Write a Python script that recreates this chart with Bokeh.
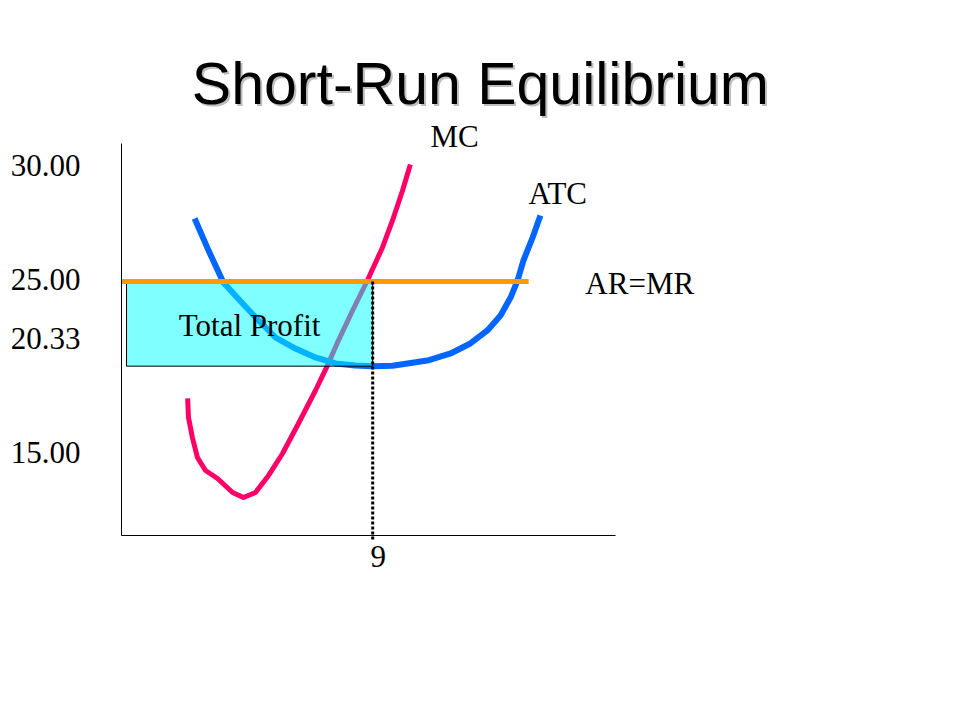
from bokeh.plotting import figure
from bokeh.models import FixedTicker, Range1d
from bokeh.core.properties import value
from bokeh.embed import file_html
from bokeh.resources import INLINE

# ---- data (quantity on x, price on y) ----
mc_q = [2.37, 2.40, 2.54, 2.72, 3.01, 3.44, 3.98, 4.37, 4.80, 5.27, 5.77, 6.34, 6.95, 7.38,
        7.77, 8.28, 8.81, 9.35, 9.71, 10.07, 10.35]
mc_p = [18.55, 17.50, 16.40, 15.30, 14.58, 14.14, 13.37, 13.09, 13.37, 14.31, 15.52, 17.17, 18.99, 20.37,
        21.74, 23.40, 25.05, 26.87, 28.36, 30.01, 31.44]

atc_q = [2.62, 3.12, 3.65, 4.34, 4.91, 5.52, 6.23, 6.95, 7.67, 8.38, 9.00, 9.71, 10.96, 11.79,
         12.50, 13.11, 13.58, 13.94, 14.19, 14.40, 14.73, 15.01]
atc_p = [28.47, 26.70, 24.94, 23.78, 22.85, 21.91, 21.30, 20.81, 20.48, 20.37, 20.33, 20.35, 20.64, 21.03,
         21.58, 22.30, 23.12, 24.11, 25.05, 26.15, 27.42, 28.63]

price = 25.00          # AR = MR
atc_min = 20.33        # ATC at equilibrium quantity
q_eq = 9               # equilibrium quantity
mr_q = [0.0, 14.58]    # extent of AR=MR line
profit_left = 0.18

q_axis = (0.0, 17.7)   # extent of quantity axis
p_axis = (11.0, 32.6)  # extent of price axis

ytick_labels = ["30.00", "25.00", "20.33", "15.00"]
ytick_anchor = [31.39, 25.11, 21.88, 15.55]
xtick_labels = ["9"]
xtick_anchor = [9.2]

SERIF = "Liberation Serif"
SANS = "Liberation Sans"

PX_X = 27.91   # pixels per quantity unit
PX_Y = 18.148  # pixels per price unit
W, H = 944, 704
X0, Y0 = 121, 143  # canvas position of (0, 32.6)

p = figure(width=W, height=H, output_backend="svg", toolbar_location=None,
           x_range=Range1d(-X0 / PX_X, (W - X0) / PX_X),
           y_range=Range1d(p_axis[1] - (H - Y0) / PX_Y, p_axis[1] + Y0 / PX_Y),
           min_border=0, background_fill_color="white", border_fill_color="white")
p.outline_line_color = None
p.xgrid.visible = False
p.ygrid.visible = False

for ax in (p.xaxis[0], p.yaxis[0]):
    ax.axis_line_color = "black"
    ax.axis_line_width = 1
    ax.major_tick_line_color = None
    ax.minor_tick_line_color = None
    ax.major_tick_in = 0
    ax.major_tick_out = 0
    ax.major_label_text_font = SERIF
    ax.major_label_text_font_size = "31px"
    ax.major_label_text_color = "black"

p.yaxis.fixed_location = q_axis[0]
p.yaxis.bounds = p_axis
p.yaxis.ticker = FixedTicker(ticks=ytick_anchor)
p.yaxis.major_label_overrides = {t: l for t, l in zip(ytick_anchor, ytick_labels)}
p.yaxis.major_label_standoff = 41
p.xaxis.fixed_location = p_axis[0]
p.xaxis.bounds = q_axis
p.xaxis.ticker = FixedTicker(ticks=xtick_anchor)
p.xaxis.major_label_overrides = {t: l for t, l in zip(xtick_anchor, xtick_labels)}
p.xaxis.major_label_standoff = 11

# AR=MR line
p.line(mr_q, [price, price], line_color="#FF9900", line_width=5)
# curves
p.line(mc_q, mc_p, line_color="#FF0066", line_width=5, line_join="round")
p.line(atc_q, atc_p, line_color="#0066FF", line_width=6, line_join="round")
# total profit rectangle (semi-transparent cyan over the curves)
p.quad(left=[profit_left], right=[q_eq], bottom=[atc_min], top=[price],
       fill_color="#00FFFF", fill_alpha=0.5, line_color="black", line_width=1)
p.line(mr_q, [price, price], line_color="#FF9900", line_width=5)
# dotted drop line at equilibrium quantity
p.line([q_eq, q_eq], [price, p_axis[0] - 0.3], line_color="black", line_width=3, line_dash="3 2")

# curve / area labels
lab_text = ["MC", "ATC", "AR=MR"]
lab_x = [11.07, 14.58, 16.62]
lab_y = [32.99, 29.85, 24.89]
p.text(x=lab_x, y=lab_y, text=lab_text, text_font=value(SERIF), text_font_size="31px",
       text_align="left", text_baseline="alphabetic", text_color="black")
p.text(x=[(profit_left + q_eq) / 2], y=[22.58], text=["Total Profit"], text_font=value(SERIF),
       text_font_size="31px", text_align="center", text_baseline="alphabetic", text_color="black")

# title with soft shadow
title = "Short-Run Equilibrium"
tx, ty = 12.86, 35.90
p.text(x=[tx], y=[ty], text=[title], text_font=value(SANS), text_font_size="59px",
       text_align="center", text_baseline="alphabetic", text_color="#888888", text_alpha=0.55,
       x_offset=2, y_offset=2)
p.text(x=[tx], y=[ty], text=[title], text_font=value(SANS), text_font_size="59px",
       text_align="center", text_baseline="alphabetic", text_color="black")

open("out.html", "w").write(file_html(p, INLINE))
